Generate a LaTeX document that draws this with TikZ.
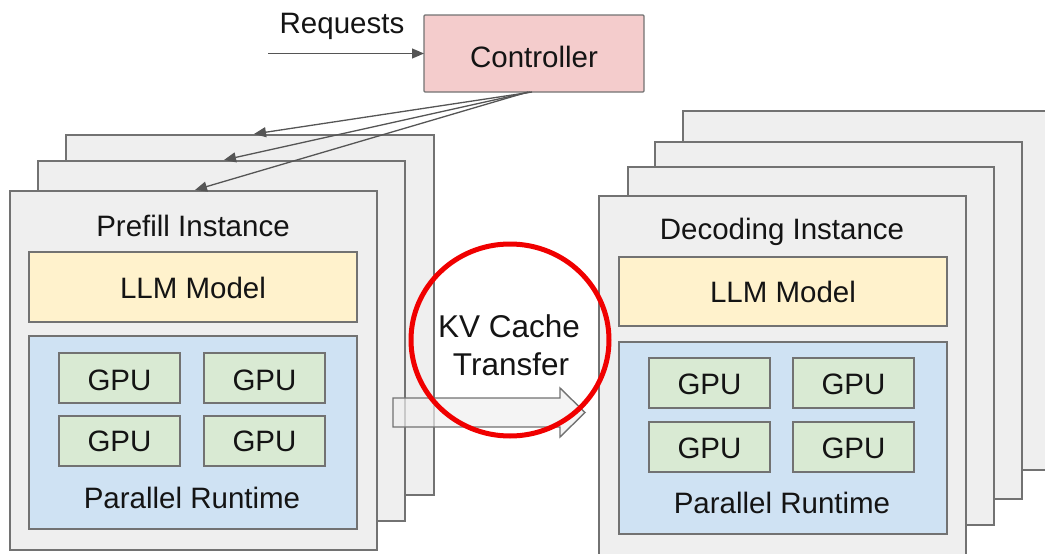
\documentclass[tikz,border=0pt]{standalone}
\usepackage{fontspec}
\setmainfont{Liberation Sans}
\usetikzlibrary{arrows.meta}

\definecolor{instfill}{HTML}{EFEFEF}
\definecolor{edgegrey}{HTML}{727272}
\definecolor{ctrlfill}{HTML}{F4CCCC}
\definecolor{llmfill}{HTML}{FFF2CC}
\definecolor{rtfill}{HTML}{CFE2F3}
\definecolor{gpufill}{HTML}{D9EAD3}
\definecolor{ink}{HTML}{141414}
\definecolor{wiregrey}{HTML}{555555}
\definecolor{markred}{HTML}{F00000}

\begin{document}
\begin{tikzpicture}[x=1pt,y=-1pt,
  box/.style={draw=edgegrey, line width=1.4pt, inner sep=0pt, outer sep=0pt,
              anchor=north west},
  inst/.style={box, fill=instfill},
  ctrlbox/.style={box, fill=ctrlfill, rounded corners=1pt},
  llmbox/.style={box, fill=llmfill, minimum width=328pt, minimum height=70pt},
  rtbox/.style={box, fill=rtfill, minimum width=328pt, minimum height=193pt},
  gpubox/.style={box, fill=gpufill, minimum width=121pt, minimum height=50pt},
  lbl/.style={anchor=base, text=ink, inner sep=0pt,
              font=\fontsize{29.5}{35}\selectfont},
  kvlbl/.style={lbl, font=\fontsize{31.5}{38}\selectfont},
  wire/.style={draw=wiregrey, line width=1.3pt,
               -{Triangle[length=12pt,width=10pt]}},
  bigarrow/.style={draw=edgegrey, line width=1.4pt, fill=instfill,
                   fill opacity=0.7, line join=miter},
  ring/.style={draw=markred, line width=5pt}
]
\useasboundingbox (0,0) rectangle (1045,554);
\clip (0,0) rectangle (1045,554);

% ---------- controller ----------
\node[ctrlbox, minimum width=220pt, minimum height=77pt] (ctrl) at (424,15) {};
\node[lbl] (ctrltxt) at (534,67) {Controller};
\node[lbl] (reqtxt) at (342,33) {Requests};
\coordinate (reqin) at (268,53.5);
\draw[wire] (reqin) -- (ctrl.west);

% ---------- prefill stack ----------
\node[inst, minimum width=368pt, minimum height=360pt] (p3) at (66,135) {};
\node[inst, minimum width=367pt, minimum height=360pt] (p2) at (38,161) {};
\node[inst, minimum width=367pt, minimum height=359pt] (p1) at (10,191) {};
\node[lbl] (ptitle) at (193,236) {Prefill Instance};
\node[llmbox] (pllm) at (29,252) {};
\node[lbl] (pllmtxt) at (193,298) {LLM Model};
\node[rtbox] (prt) at (29,336) {};
\node[gpubox] (pg1) at (59,353) {};
\node[gpubox] (pg2) at (204,353) {};
\node[gpubox] (pg3) at (59,416) {};
\node[gpubox] (pg4) at (204,416) {};
\node[lbl] at (pg1.center |- 0,390) {GPU};
\node[lbl] at (pg2.center |- 0,390) {GPU};
\node[lbl] at (pg3.center |- 0,451) {GPU};
\node[lbl] at (pg4.center |- 0,451) {GPU};
\node[lbl] (prttxt) at (192,508) {Parallel Runtime};

% controller dispatches to the prefill instances
\coordinate (in3) at (254,134);
\coordinate (in2) at (224,160);
\coordinate (in1) at (195,190);
\draw[wire] ([xshift=-2pt]ctrl.south) -- (in3);
\draw[wire] ([xshift=-4pt]ctrl.south) -- (in2);
\draw[wire] ([xshift=-6pt]ctrl.south) -- (in1);

% ---------- decoding stack ----------
\node[inst, minimum width=380pt, minimum height=359pt] (d4) at (683,111) {};
\node[inst, minimum width=367pt, minimum height=357pt] (d3) at (655,142) {};
\node[inst, minimum width=366pt, minimum height=358pt] (d2) at (628,167) {};
\node[inst, minimum width=367pt, minimum height=380pt] (d1) at (599,196) {};
\node[lbl] (dtitle) at (782,239) {Decoding Instance};
\node[llmbox, minimum height=69pt] (dllm) at (619,257) {};
\node[lbl] (dllmtxt) at (783,302) {LLM Model};
\node[rtbox, minimum height=192pt] (drt) at (619,342) {};
\node[gpubox] (dg1) at (649,358) {};
\node[gpubox] (dg2) at (793,358) {};
\node[gpubox] (dg3) at (649,422) {};
\node[gpubox] (dg4) at (793,422) {};
\node[lbl] at (dg1.center |- 0,394) {GPU};
\node[lbl] at (dg2.center |- 0,394) {GPU};
\node[lbl] at (dg3.center |- 0,458) {GPU};
\node[lbl] at (dg4.center |- 0,458) {GPU};
\node[lbl] (drttxt) at (782,513) {Parallel Runtime};

% ---------- KV cache transfer ----------
\draw[bigarrow] (393,398) -- (560,398) -- (560,388) -- (585,412.5)
  -- (560,437) -- (560,427) -- (393,427) -- cycle;
\node[kvlbl] (kv1) at (509,337) {KV Cache};
\node[kvlbl] (kv2) at (511,375) {Transfer};
\draw[ring] (510,340) ellipse [x radius=99pt, y radius=96pt];
\end{tikzpicture}
\end{document}
